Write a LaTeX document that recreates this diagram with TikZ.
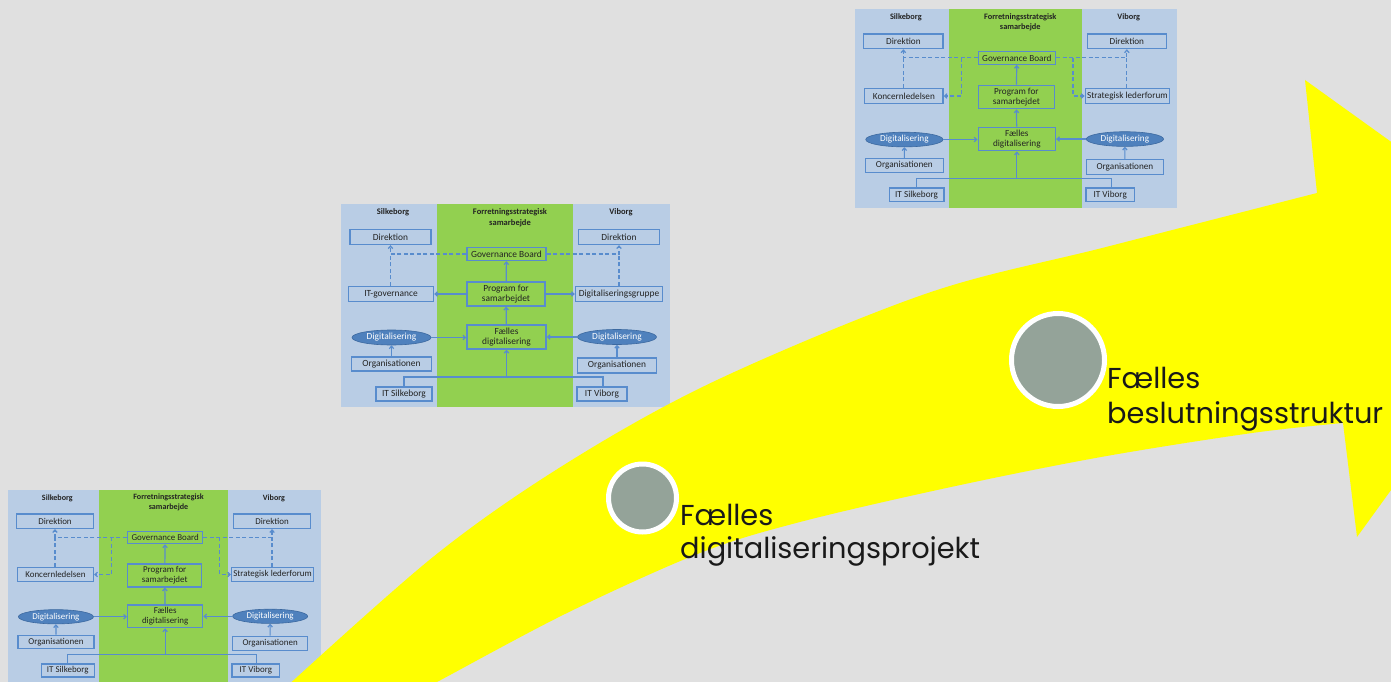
\documentclass[tikz,border=0pt]{standalone}
\usepackage{fontspec}
\setmainfont{Carlito}
\newfontfamily\popfont{Poppins}
\usetikzlibrary{arrows.meta,shapes.geometric,calc}
\definecolor{bggray}{RGB}{224,224,224}
\definecolor{pblue}{RGB}{185,205,229}
\definecolor{pgreen}{RGB}{146,208,80}
\definecolor{boxblue}{RGB}{88,140,205}
\definecolor{ellblue}{RGB}{79,129,189}
\definecolor{elledge}{RGB}{60,105,160}
\definecolor{pdark}{RGB}{35,35,35}
\definecolor{dotgray}{RGB}{148,163,153}
\definecolor{arrowyellow}{RGB}{255,255,0}
\tikzset{
  pbox/.style={draw=boxblue, line width=1.4pt, inner sep=0pt, minimum height=14,
    font=\fontsize{9.4}{10.5}\selectfont, text=pdark, align=center},
  pell/.style={ellipse, draw=elledge, fill=ellblue, line width=0.6pt, inner sep=0pt,
    minimum width=79, minimum height=15, font=\fontsize{9.4}{10}\selectfont, text=white},
  hdr/.style={font=\bfseries\fontsize{8.5}{10.5}\selectfont, text=pdark, align=center, inner sep=0pt},
  conn/.style={draw=boxblue, line width=1.2pt},
  arr/.style={-{Straight Barb[length=2.5pt,width=4.5pt]}},
  dconn/.style={conn, dash pattern=on 4pt off 2.5pt},
  dotc/.style={circle, fill=dotgray, draw=white, line width=5pt, inner sep=0pt},
  bigtxt/.style={font=\popfont\fontsize{28.8}{33}\selectfont, text=black!90, inner sep=0pt, anchor=base west}
}
\newcommand\orgpanel[1]{%
  \fill[pblue] (1,1) rectangle (330,204);
  \fill[pgreen] (97,1) rectangle (233,204);
  \node[hdr] (hs) at (53,9.5) {Silkeborg};
  \node[hdr] (hm) at (170,14.5) {Forretningsstrategisk\\samarbejde};
  \node[hdr] (hv) at (281,9.5) {Viborg};
  \node[pbox,minimum width=81,minimum height=15] (dirL) at (50.5,34) {Direktion};
  \node[pbox,minimum width=81,minimum height=15] (dirR) at (279,34) {Direktion};
  \node[pbox,minimum width=79,minimum height=13] (gov) at (166.5,51) {Governance Board};
  \node[pbox,minimum width=78,minimum height=24] (prog) at (166,91) {Program for\\samarbejdet};
  \node[pell] (digL) at (51.5,134.5) {Digitalisering};
  \node[pbox,minimum width=79,minimum height=24] (fae) at (166.5,134) {Fælles\\digitalisering};
  \node[pell] (digR) at (277,134) {Digitalisering};
  \node[pbox,minimum width=80] (orgL) at (51.5,161) {Organisationen};
  \node[pbox,minimum width=79,minimum height=15] (orgR) at (277,162.5) {Organisationen};
  \node[pbox,minimum width=56] (itS) at (64,191) {IT Silkeborg};
  \node[pbox,minimum width=50] (itV) at (262,191) {IT Viborg};
  \coordinate (bl) at (64,174);
  \coordinate (br) at (263,174);
  \draw[conn,arr] (orgL) -- (digL);
  \draw[conn,arr] (orgR) -- (digR);
  \draw[conn,arr] (digL.east) -- (digL.east -| fae.west);
  \draw[conn,arr] (digR.west) -- (digR.west -| fae.east);
  \draw[conn,arr] (fae) -- (prog);
  \draw[conn,arr] (prog) -- (gov);
  \draw[conn,arr] (fae.south |- bl) -- (fae.south);
  \ifnum#1=2
    \node[pbox,minimum width=85,minimum height=15] (midL) at (51,91) {IT-governance};
    \node[pbox,minimum width=87,minimum height=15] (midR) at (279,91) {Digitaliseringsgruppe};
    \draw[conn,arr] (prog.west) -- (prog.west -| midL.east);
    \draw[conn,arr] (prog.east) -- (prog.east -| midR.west);
  \else
    \node[pbox,minimum width=80,minimum height=15] (midL) at (51,90) {Koncernledelsen};
    \node[pbox,minimum width=86,minimum height=15] (midR) at (279.5,90) {Strategisk lederforum};
    \coordinate (kxl) at (110,0);
    \coordinate (kxr) at (224,0);
    \draw[dconn,arr] (gov.west -| kxl) |- (midL.east);
    \draw[dconn,arr] (gov.east -| kxr) |- (midR.west);
  \fi
  \draw[conn] (itS.north) -- (itS.north |- bl) -- (br) -- (br |- itV.north);
  \draw[dconn,arr] (gov.west) -| (dirL.south);
  \draw[dconn] (dirL.south |- midL.north) -- (dirL.south |- gov.west);
  \draw[dconn,arr] (gov.east) -| (dirR.south);
  \draw[dconn] (dirR.south |- midR.north) -- (dirR.south |- gov.east);
}
\begin{document}
\begin{tikzpicture}[x=1pt,y=-1pt]
\useasboundingbox (0,0) rectangle (1391,682);
\clip (0,0) rectangle (1391,682);
\fill[bggray] (0,0) rectangle (1391,682);
% panels
\begin{scope}[shift={(7,489)}, scale=0.95, transform shape, name prefix=pa-]
  \orgpanel{1}
\end{scope}
\begin{scope}[shift={(340,203)}, scale=1, transform shape, name prefix=pb-]
  \orgpanel{2}
\end{scope}
\begin{scope}[shift={(854,8)}, scale=0.978, transform shape, name prefix=pc-]
  \orgpanel{1}
\end{scope}
% yellow arrow
\fill[arrowyellow] plot[smooth, tension=0.55] coordinates {(272,700) (433,557) (567,463) (717,380) (928,293) (1106,247) (1317,193)}
  -- (1305,80) -- (1557,261) -- (1357,537) -- (1343,423)
  -- plot[smooth, tension=0.55] coordinates {(1343,423) (1252,433) (1101,457) (951,487) (800,522) (700,553) (567,613) (437,682) (403,700)}
  -- cycle;
% milestones
\node[dotc, minimum size=68] (m1) at (642.5,498) {};
\node[dotc, minimum size=93] (m2) at (1058,360) {};
\node[bigtxt] (t1a) at (680,525) {Fælles};
\node[bigtxt] (t1b) at (680,558) {digitaliseringsprojekt};
\node[bigtxt] (t2a) at (1107,388) {Fælles};
\node[bigtxt] (t2b) at (1107,423) {beslutningsstruktur};
\end{tikzpicture}
\end{document}
